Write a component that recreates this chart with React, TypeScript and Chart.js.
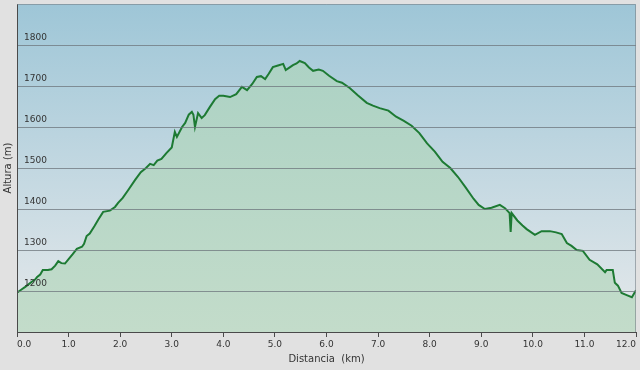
import React, { useEffect, useRef } from "react";
import { Chart, registerables } from "chart.js";

Chart.register(...registerables);

const distanceKm = [
  0, 0.08, 0.16, 0.28, 0.35, 0.39, 0.45, 0.5, 0.6, 0.67, 0.74, 0.8, 0.86, 0.93, 1.0, 1.08, 1.16, 1.26, 1.3,
  1.35, 1.41, 1.5, 1.58, 1.67, 1.8, 1.9, 1.96, 2.05, 2.15, 2.29, 2.4, 2.5, 2.58, 2.65, 2.72, 2.8, 2.9, 3.0,
  3.06, 3.1, 3.2, 3.26, 3.33, 3.39, 3.42, 3.45, 3.51, 3.58, 3.64, 3.74, 3.84, 3.92, 4.0, 4.13, 4.25, 4.36,
  4.46, 4.56, 4.65, 4.73, 4.81, 4.88, 4.96, 5.06, 5.16, 5.21, 5.28, 5.35, 5.42, 5.48, 5.58, 5.66, 5.74,
  5.85, 5.93, 6.05, 6.2, 6.3, 6.45, 6.6, 6.78, 6.9, 7.03, 7.2, 7.35, 7.5, 7.65, 7.8, 7.95, 8.1, 8.25, 8.4,
  8.55, 8.7, 8.85, 8.95, 9.07, 9.2, 9.36, 9.46, 9.55, 9.57, 9.59, 9.7, 9.8, 9.88, 10.04, 10.17, 10.33,
  10.45, 10.56, 10.66, 10.75, 10.85, 10.97, 11.1, 11.25, 11.4, 11.43, 11.55, 11.59, 11.65, 11.72, 11.82,
  11.92, 12.0,
];

const altitudeM = [
  1196, 1203, 1210, 1222, 1228, 1234, 1240, 1251, 1251, 1253, 1262, 1273, 1268, 1267, 1278, 1290, 1303, 1308,
  1315, 1334, 1340, 1358, 1375, 1393, 1396, 1405, 1415, 1427, 1445, 1471, 1490, 1500, 1510, 1507, 1518,
  1522, 1537, 1550, 1588, 1576, 1600, 1610, 1630, 1637, 1630, 1600, 1634, 1622, 1629, 1649, 1668, 1676,
  1676, 1673, 1680, 1698, 1690, 1705, 1722, 1724, 1717, 1730, 1746, 1750, 1754, 1739, 1745, 1751, 1755,
  1761, 1756, 1745, 1737, 1740, 1737, 1725, 1712, 1708, 1695, 1678, 1659, 1652, 1646, 1640, 1625, 1615,
  1603, 1585, 1560, 1540, 1515, 1500, 1478, 1452, 1425, 1410, 1400, 1403, 1410, 1402, 1390, 1344, 1390,
  1372, 1360, 1351, 1337, 1346, 1346, 1343, 1339, 1317, 1310, 1300, 1298, 1276, 1265, 1246, 1251, 1251,
  1220, 1213, 1195, 1190, 1185, 1202,
];

const yTickValues = [1200, 1300, 1400, 1500, 1600, 1700, 1800];
const xTitle = "Distancia  (km)";
const yTitle = "Altura (m)";

const bgPlugin = {
  id: "bgPlugin",
  beforeDraw(chart: any) {
    const { ctx, chartArea: a, width, height } = chart;
    ctx.save();
    ctx.fillStyle = "#e1e1e1";
    ctx.fillRect(0, 0, width, height);
    const g = ctx.createLinearGradient(0, a.top, 0, a.bottom);
    g.addColorStop(0, "#9ec6d7");
    g.addColorStop(1, "#e6e9eb");
    ctx.fillStyle = g;
    ctx.fillRect(a.left, a.top, a.right - a.left, a.bottom - a.top);
    ctx.restore();
  },
  afterDraw(chart: any) {
    const { ctx, chartArea: a } = chart;
    ctx.save();
    ctx.strokeStyle = "rgba(120,128,135,0.6)";
    ctx.lineWidth = 1;
    ctx.beginPath();
    ctx.moveTo(a.left, a.top + 0.5);
    ctx.lineTo(a.right - 0.5, a.top + 0.5);
    ctx.lineTo(a.right - 0.5, a.bottom);
    ctx.stroke();
    ctx.restore();
  },
};

export default function App() {
  const ref = useRef<HTMLCanvasElement | null>(null);

  useEffect(() => {
    if (!ref.current) return;
    const points = distanceKm.map((x, i) => ({ x, y: altitudeM[i] }));
    const chart = new Chart(ref.current, {
      type: "line",
      data: {
        datasets: [
          {
            data: points,
            borderColor: "#1d7a33",
            borderWidth: 2,
            pointRadius: 0,
            tension: 0,
            fill: "start",
            backgroundColor: (c: any) => {
              const a = c.chart.chartArea;
              if (!a) return "rgba(180,215,195,0.8)";
              const g = c.chart.ctx.createLinearGradient(0, a.top, 0, a.bottom);
              g.addColorStop(0, "#a8d0c3");
              g.addColorStop(1, "#c3dcca");
              return g;
            },
          },
        ],
      },
      options: {
        animation: false,
        responsive: false,
        layout: { padding: { top: 4, right: 4, left: 0, bottom: 0 } },
        plugins: { legend: { display: false }, tooltip: { enabled: false } },
        scales: {
          x: {
            type: "linear",
            min: 0,
            max: 12,
            afterFit: (s: any) => {
              s.height = 38;
              s.paddingLeft = 0;
              s.paddingRight = 0;
            },
            border: { display: true, color: "#4a4a4a", width: 1, z: 2 },
            grid: { drawOnChartArea: false, drawTicks: true, tickLength: 5, color: "#4a4a4a" },
            ticks: {
              stepSize: 1,
              autoSkip: false,
              maxRotation: 0,
              align: "inner",
              padding: 2,
              color: "#333",
              font: { family: "DejaVu Sans", size: 9 },
              callback: (v: any) => Number(v).toFixed(1),
            },
            title: {
              display: true,
              text: xTitle,
              color: "#333",
              font: { family: "DejaVu Sans", size: 10 },
              padding: { top: 5, bottom: 5 },
            },
          },
          y: {
            type: "linear",
            min: 1100,
            max: 1900,
            afterFit: (s: any) => {
              s.width = 17;
              s.paddingTop = 0;
              s.paddingBottom = 0;
            },
            border: { display: true, color: "#4a4a4a", width: 1, z: 2 },
            grid: {
              z: 1,
              drawTicks: false,
              color: (c: any) =>
                c.tick && yTickValues.includes(c.tick.value) ? "rgba(110,118,124,0.75)" : "rgba(0,0,0,0)",
              lineWidth: 1,
            },
            ticks: {
              z: 1,
              stepSize: 100,
              mirror: true,
              padding: 7,
              labelOffset: -7,
              color: "#333",
              font: { family: "DejaVu Sans", size: 9 },
              callback: (v: any) => (yTickValues.includes(Number(v)) ? String(v) : ""),
            },
            title: {
              display: true,
              text: yTitle,
              color: "#333",
              font: { family: "DejaVu Sans", size: 10 },
              padding: { top: 2, bottom: 2 },
            },
          },
        },
      },
      plugins: [bgPlugin],
    });
    return () => chart.destroy();
  }, []);

  return (
    <div style={{ position: "absolute", left: 0, top: 0, width: 640, height: 370 }}>
      <canvas ref={ref} width={640} height={370} />
    </div>
  );
}
